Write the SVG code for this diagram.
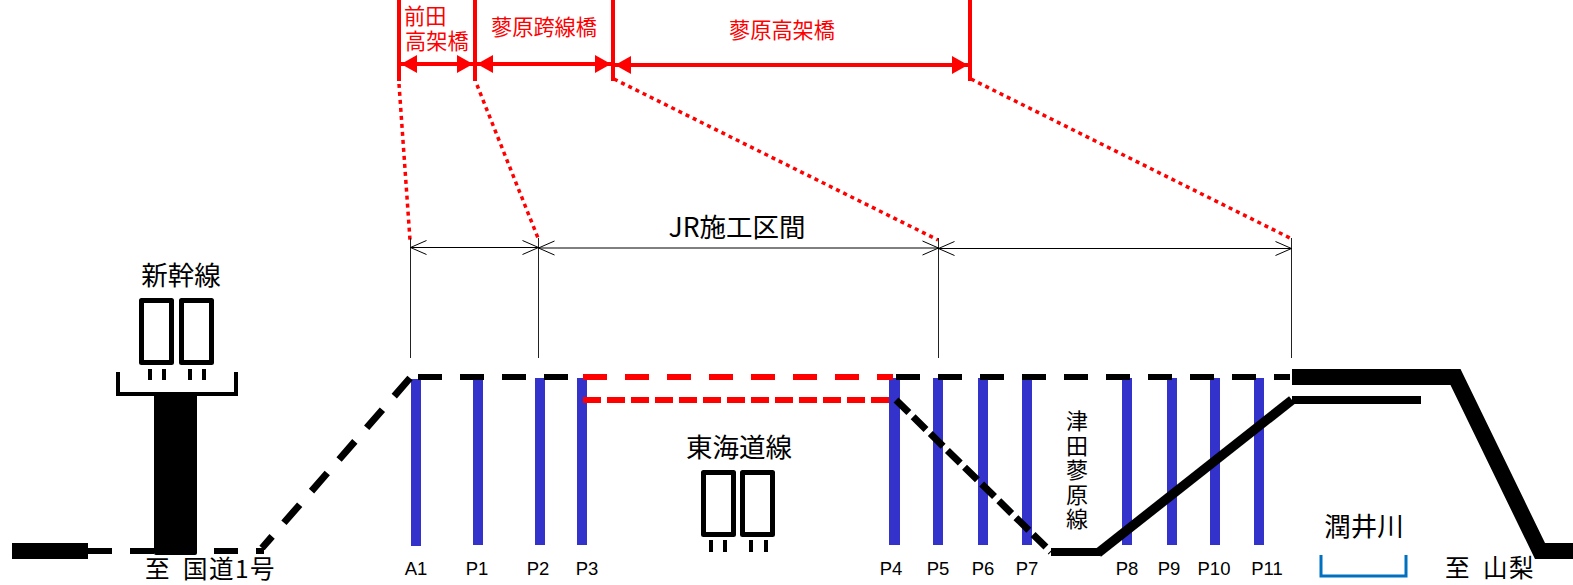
<svg xmlns="http://www.w3.org/2000/svg" width="1573" height="585" viewBox="0 0 1573 585">
<style>
text{font-family:"Noto Sans CJK JP","Liberation Sans",sans-serif;fill:#000}
.l{font-family:"Liberation Sans",sans-serif;font-size:18.500px;text-anchor:middle}
.r{fill:#f00;font-size:21.200px}
.t{font-size:26.500px}
.b{font-size:24.500px;letter-spacing:1.500px;word-spacing:5px}
.c{text-anchor:middle}
.pier{fill:#3333cc}
.box{fill:#fff;stroke:#000;stroke-width:5;stroke-linejoin:round}
.tick{stroke:#000;stroke-width:4;fill:none}
.thin{stroke:#222;stroke-width:1;fill:none}
.dim{stroke:#000;stroke-width:1;fill:none;marker-start:url(#os);marker-end:url(#oe)}
.red{stroke:#f00;stroke-width:4;fill:none}
.reda{stroke:#f00;stroke-width:4;fill:none;marker-start:url(#rs);marker-end:url(#re)}
.dot{stroke:#f00;stroke-width:3.500;fill:none;stroke-dasharray:4 4}
.bd{stroke:#000;stroke-width:6;fill:none}
.bg{stroke:#000;stroke-width:7;fill:none}
.rd{stroke:#f00;stroke-width:6;fill:none}
</style>
<defs>
<marker id="re" markerUnits="userSpaceOnUse" markerWidth="16" markerHeight="18" refX="16" refY="9" orient="auto"><path d="M0 0L16 9L0 18Z" fill="#f00"/></marker>
<marker id="rs" markerUnits="userSpaceOnUse" markerWidth="16" markerHeight="18" refX="0" refY="9" orient="auto"><path d="M16 0L0 9L16 18Z" fill="#f00"/></marker>
<marker id="oe" markerUnits="userSpaceOnUse" markerWidth="18" markerHeight="16" refX="17" refY="8" orient="auto"><path d="M1 1L17 8L1 15" fill="none" stroke="#000"/></marker>
<marker id="os" markerUnits="userSpaceOnUse" markerWidth="18" markerHeight="16" refX="1" refY="8" orient="auto"><path d="M17 1L1 8L17 15" fill="none" stroke="#000"/></marker>
</defs>
<g id="piers">
<rect id="A1" class="pier" x="411" y="379" width="10" height="167"/>
<rect id="P1" class="pier" x="473" y="378" width="10" height="167"/>
<rect id="P2" class="pier" x="535" y="378" width="10" height="167"/>
<rect id="P3" class="pier" x="577" y="378" width="10" height="167"/>
<rect id="P4" class="pier" x="889" y="378" width="11" height="167"/>
<rect id="P5" class="pier" x="933" y="378" width="10" height="167"/>
<rect id="P6" class="pier" x="978" y="378" width="10" height="167"/>
<rect id="P7" class="pier" x="1022" y="378" width="10" height="167"/>
<rect id="P8" class="pier" x="1122" y="378" width="10" height="167"/>
<rect id="P9" class="pier" x="1167" y="378" width="10" height="167"/>
<rect id="P10" class="pier" x="1210" y="378" width="10" height="167"/>
<rect id="P11" class="pier" x="1254" y="378" width="10" height="167"/>
</g>
<g id="connectors">
<path class="red" d="M399 0V81M475 0V81M613 0V81M970 0V81"/>
<path class="reda" d="M401 64H473"/><path class="reda" d="M477 64H611"/><path class="reda" d="M615 65H968"/>
<path class="dot" d="M399 84L410 240"/><path class="dot" d="M477 85L538 238"/><path class="dot" d="M614 79L938 240"/><path class="dot" d="M971 79L1292 239"/>
<path class="thin" d="M410.500 238V358M538.500 238V358M938.500 238V358M1291.500 238V358"/>
<path class="dim" d="M410.500 247.500H538.500"/><path class="dim" d="M538.500 248H938.500"/><path class="dim" d="M938.500 248.500H1291.500"/>
<rect x="12" y="543" width="76" height="16"/>
<path class="bd" d="M88 551H264" stroke-dasharray="24 18"/>
<path class="bg" d="M410 378L262 548" stroke-dasharray="24 18"/>
<path class="bd" d="M418 377H570" stroke-dasharray="24 18"/>
<path class="bd" d="M896 377H1290" stroke-dasharray="24 18"/>
<path class="rd" d="M583 377H893" stroke-dasharray="24 18"/>
<path class="rd" d="M583 400H889" stroke-dasharray="18 6"/>
<path class="bg" d="M896 400L1051 552" stroke-dasharray="18 6"/>
<path d="M1292 377H1455.500L1540 551H1573" fill="none" stroke="#000" stroke-width="16"/>
<path d="M1051 552H1100M1292 400H1421" fill="none" stroke="#000" stroke-width="8"/>
<path d="M1098 553L1292 400" fill="none" stroke="#000" stroke-width="9.500"/>
</g>
<g id="shinkansen">
<rect x="154" y="394" width="43" height="161" rx="2"/>
<path class="tick" d="M118 372V394H236V372"/>
<rect class="box" x="141.500" y="300.500" width="30" height="62"/>
<rect class="box" x="181.500" y="300.500" width="30" height="62"/>
<path class="tick" d="M150 369V380M164 369V380M190 369V380M204 369V380"/>
<text class="t c" x="181" y="285">新幹線</text>
</g>
<g id="tokaido">
<rect class="box" x="703.500" y="472.500" width="30" height="62"/>
<rect class="box" x="742.500" y="472.500" width="30" height="62"/>
<path class="tick" d="M711 540V552M725 540V552M751 540V552M766 540V552"/>
<text class="t c" x="739" y="457">東海道線</text>
</g>
<g id="river">
<path d="M1321 555V576H1406V555" fill="none" stroke="#0070c0" stroke-width="3"/>
<text class="t c" x="1364" y="536">潤井川</text>
</g>
<g id="labels">
<text class="r"><tspan x="404" y="24">前田</tspan><tspan x="405" y="49">高架橋</tspan></text>
<text class="r c" x="544" y="35">蓼原跨線橋</text>
<text class="r c" x="782" y="38">蓼原高架橋</text>
<text class="t c" x="737" y="237">JR施工区間</text>
<text class="b" x="145" y="577.500">至 国道1号</text>
<text class="b" x="1445" y="577">至 山梨</text>
<text x="1077" y="410" style="writing-mode:vertical-rl;font-size:22px;letter-spacing:2.500px">津田蓼原線</text>
<text class="l" x="416" y="575">A1</text><text class="l" x="477" y="575">P1</text><text class="l" x="538" y="575">P2</text><text class="l" x="587" y="575">P3</text><text class="l" x="891" y="575">P4</text><text class="l" x="938" y="575">P5</text><text class="l" x="983" y="575">P6</text><text class="l" x="1027" y="575">P7</text><text class="l" x="1127" y="575">P8</text><text class="l" x="1169" y="575">P9</text><text class="l" x="1214" y="575">P10</text><text class="l" x="1267" y="575">P11</text>
</g>
</svg>
